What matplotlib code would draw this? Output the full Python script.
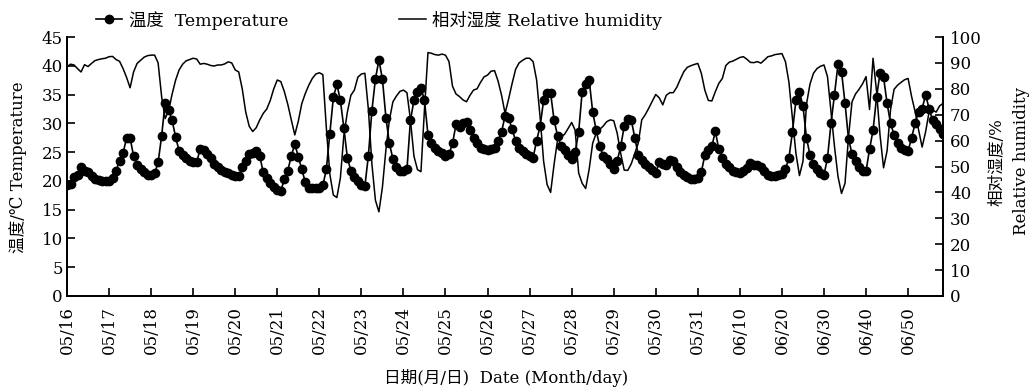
import numpy as np
import matplotlib
matplotlib.use('Agg')
import matplotlib.pyplot as plt
from matplotlib.lines import Line2D

plt.rcParams['font.family'] = ['DejaVu Serif', 'Noto Sans CJK SC']
plt.rcParams['font.size'] = 12

# 刻度标签（日期）
date_labels = ['05/16', '05/17', '05/18', '05/19', '05/20', '05/21', '05/22',
               '05/23', '05/24', '05/25', '05/26', '05/27', '05/28', '05/29',
               '05/30', '05/31', '06/10', '06/20', '06/30', '06/40', '06/50']

# 温度 (℃)，每 2 h 一个读数，一行一天
temperature = [
    19.2, 19.4, 20.6, 21.0, 22.4, 21.8, 21.6, 20.8, 20.4, 20.1, 19.9, 19.9,
    20.0, 20.5, 21.8, 23.5, 24.8, 27.5, 27.5, 24.3, 22.8, 22.0, 21.5, 21.0,
    21.0, 21.3, 23.2, 27.8, 33.6, 32.3, 30.5, 27.6, 25.2, 24.5, 24.0, 23.5,
    23.2, 23.2, 25.6, 25.3, 24.6, 24.0, 23.0, 22.5, 21.9, 21.5, 21.3, 21.0,
    20.8, 20.8, 22.5, 23.5, 24.7, 24.8, 25.2, 24.3, 21.5, 20.5, 19.6, 19.0,
    18.4, 18.2, 20.3, 21.8, 24.3, 26.4, 24.2, 22.0, 19.8, 18.8, 18.7, 18.8,
    18.8, 19.2, 22.0, 28.2, 34.5, 36.8, 34.0, 29.2, 24.0, 21.8, 20.6, 20.0,
    19.3, 19.1, 24.4, 32.2, 37.7, 41.0, 37.7, 31.0, 26.5, 23.8, 22.5, 21.8,
    21.7, 22.0, 30.5, 34.0, 35.5, 36.2, 34.0, 28.0, 26.6, 25.8, 25.2, 24.8,
    24.4, 24.6, 26.5, 29.8, 29.4, 30.0, 30.3, 28.8, 27.4, 26.6, 25.8, 25.5,
    25.4, 25.5, 25.8, 27.0, 28.5, 31.3, 31.0, 29.0, 27.0, 25.8, 25.2, 24.7,
    24.3, 24.0, 27.0, 29.5, 34.0, 35.3, 35.2, 30.5, 27.8, 26.0, 25.3, 24.5,
    23.8, 25.0, 28.5, 35.5, 36.9, 37.5, 32.0, 28.8, 26.0, 24.4, 23.8, 23.0,
    22.0, 23.5, 26.0, 29.5, 30.8, 30.6, 27.5, 24.5, 23.6, 23.0, 22.5, 21.9,
    21.3, 23.3, 23.0, 22.8, 23.6, 23.4, 22.4, 21.5, 21.0, 20.6, 20.4, 20.4,
    20.5, 21.5, 24.5, 25.3, 26.0, 28.6, 25.5, 24.0, 23.0, 22.4, 21.8, 21.5,
    21.3, 21.7, 22.3, 23.1, 22.8, 22.7, 22.4, 21.7, 21.1, 20.8, 20.8, 21.0,
    21.2, 22.0, 24.0, 28.5, 34.0, 35.5, 33.0, 27.5, 24.5, 22.9, 22.0, 21.4,
    21.0, 24.0, 30.0, 35.0, 40.3, 39.0, 33.5, 27.3, 24.7, 23.4, 22.5, 21.8,
    21.7, 25.5, 28.8, 34.5, 38.8, 38.0, 33.5, 30.0, 28.0, 26.5, 25.7, 25.4,
    25.2, 27.5, 30.0, 32.0, 32.5, 35.0, 32.5, 30.5, 29.8, 29.0, 28.2,
]

# 相对湿度 (%)
humidity = [
    88.5, 89.5, 89.2, 87.8, 86.5, 89.3, 88.6, 89.8, 90.9, 91.3, 91.6, 91.8,
    92.4, 92.5, 91.3, 90.6, 87.8, 84.4, 80.4, 86.5, 89.8, 91.0, 92.2, 92.8,
    93.0, 93.0, 90.0, 77.0, 68.5, 71.5, 78.0, 83.4, 87.3, 89.5, 90.8, 91.3,
    91.8, 91.5, 89.5, 89.8, 89.5, 89.0, 88.8, 89.2, 89.2, 89.6, 90.4, 90.0,
    87.3, 86.5, 80.0, 71.0, 65.5, 63.5, 65.0, 68.0, 70.5, 72.2, 75.5, 80.0,
    83.4, 82.8, 79.0, 74.0, 68.0, 62.2, 67.5, 74.3, 78.2, 81.4, 84.0, 85.7,
    86.2, 85.5, 65.0, 47.0, 39.0, 38.0, 45.5, 62.0, 71.0, 77.5, 79.5, 84.5,
    85.7, 86.0, 72.0, 51.0, 37.0, 32.5, 42.0, 56.5, 68.0, 75.0, 77.2, 79.0,
    79.5, 78.5, 68.0, 54.0, 48.8, 48.0, 72.0, 94.0, 93.7, 93.2, 93.0, 93.4,
    93.0, 90.5, 81.0, 78.0, 77.0, 75.7, 75.0, 77.5, 79.5, 80.0, 82.5, 84.6,
    85.3, 86.8, 87.0, 83.0, 77.5, 70.5, 76.0, 82.0, 87.5, 90.0, 91.0, 91.8,
    91.8, 90.5, 83.4, 69.0, 52.0, 43.0, 40.0, 51.0, 60.5, 61.3, 62.5, 64.7,
    67.0, 64.0, 47.5, 43.5, 41.5, 49.0, 59.0, 62.8, 64.3, 65.6, 67.3, 68.0,
    67.7, 62.8, 55.0, 48.6, 48.5, 51.0, 55.0, 59.0, 68.0, 70.0, 72.5, 75.2,
    77.8, 76.5, 73.8, 77.5, 78.5, 78.5, 80.6, 83.7, 86.6, 88.3, 88.9, 89.4,
    89.8, 86.0, 79.5, 75.5, 75.3, 78.9, 82.1, 84.0, 89.0, 90.3, 90.7, 91.4,
    92.1, 92.4, 91.4, 90.2, 90.1, 90.5, 89.9, 91.1, 92.4, 92.7, 93.2, 93.4,
    93.6, 90.5, 82.5, 68.5, 55.0, 46.5, 52.0, 74.0, 81.8, 86.0, 87.8, 88.7,
    89.2, 84.7, 71.2, 57.7, 46.1, 39.6, 43.5, 61.5, 75.0, 78.0, 79.8, 81.9,
    84.7, 72.0, 91.8, 79.0, 62.0, 49.5, 56.0, 72.0, 79.8, 81.4, 82.5, 83.5,
    84.0, 77.0, 71.2, 64.1, 57.5, 63.4, 71.2, 71.8, 71.0, 73.4, 74.4,
]

step = 1 / 12  # 天
t_days = np.arange(len(temperature)) * step
h_days = np.arange(len(humidity)) * step

fig = plt.figure(figsize=(10.32, 3.88), dpi=100)
ax = fig.add_axes([67 / 1032, 92 / 388, 876 / 1032, 259 / 388])
ax2 = ax.twinx()

ax.plot(t_days, temperature, color='k', lw=1.2, marker='o', ms=6, zorder=3)
ax2.plot(h_days, humidity, color='k', lw=1.1)

ax.set_xlim(0, 20.83)
ax.set_ylim(0, 45)
ax2.set_ylim(0, 100)
ax.set_xticks(range(len(date_labels)))
ax.set_xticklabels(date_labels, rotation=90)
ax.set_yticks(np.arange(0, 46, 5))
ax2.set_yticks(np.arange(0, 101, 10))

for a in (ax, ax2):
    a.spines['top'].set_visible(False)
    for s in a.spines.values():
        s.set_linewidth(1.3)
ax.tick_params(axis='both', direction='in', length=6, width=1.2, labelsize=12)
ax.tick_params(axis='y', pad=3)
ax.tick_params(axis='x', pad=7)
ax2.tick_params(axis='y', direction='in', length=6, width=1.2, labelsize=12, pad=5)

# 坐标轴标题
fig.text(18 / 1032, 1 - 167 / 388, '温度/℃ Temperature', rotation=90,
         ha='center', va='center', fontsize=12)
fig.text(997 / 1032, 1 - 162 / 388, '相对湿度/%', rotation=90,
         ha='center', va='center', fontsize=12)
fig.text(1021 / 1032, 1 - 161 / 388, 'Relative humidity', rotation=90,
         ha='center', va='center', fontsize=12)
fig.text(506 / 1032, 1 - 378 / 388, '日期(月/日)  Date (Month/day)',
         ha='center', va='center', fontsize=12)

# 图例
handles = [Line2D([], [], color='k', lw=1.2, marker='o', ms=6),
           Line2D([], [], color='k', lw=1.1)]
fig.legend(handles, ['温度  Temperature', '相对湿度 Relative humidity'],
           ncol=2, loc='center left', bbox_to_anchor=(96 / 1032, 1 - 20 / 388),
           frameon=False, handlelength=1.5, handletextpad=0.4,
           columnspacing=6.4, borderpad=0, borderaxespad=0, fontsize=12.5)

fig.savefig('out.png', dpi=100)
